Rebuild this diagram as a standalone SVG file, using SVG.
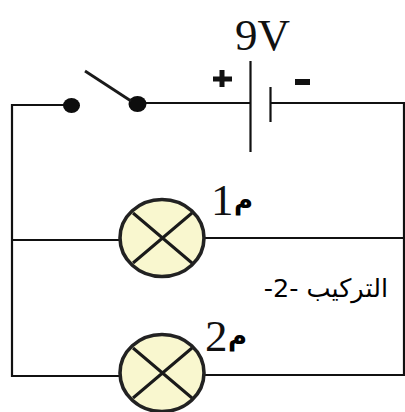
<svg xmlns="http://www.w3.org/2000/svg" width="405" height="412" viewBox="0 0 405 412">
<style>
.w{fill:none;stroke:#111;stroke-width:2.2}
.b{fill:#f9f7cf;stroke:#222;stroke-width:3.6}
.x{fill:none;stroke:#1a1a1a;stroke-width:3}
.d{fill:#0d0d0d}
.l{font-family:"Liberation Serif",serif;font-size:45px;fill:#111}
.a{font-family:"DejaVu Sans",serif;fill:#000}
</style>
<rect width="405" height="412" fill="#fff"/>
<g id="connectors">
<path class="w" d="M71 105H12V376H120"/>
<path class="w" d="M137 103H250M270 103H404V375H204"/>
<path class="w" d="M12 240H120M204 238H404"/>
</g>
<g id="switch">
<ellipse class="d" cx="71.500" cy="105.500" rx="8.500" ry="7.500"/>
<ellipse class="d" cx="137.500" cy="104" rx="9" ry="8"/>
<path d="M85 71L131 101" fill="none" stroke="#1a1a1a" stroke-width="2.800"/>
</g>
<g id="battery">
<path d="M250.500 61V152M270.500 87V122" fill="none" stroke="#111" stroke-width="2.200"/>
<text class="l" x="235" y="50">9V</text>
<path d="M222 70V87M213 79H232" fill="none" stroke="#111" stroke-width="5"/>
<rect x="295" y="79" width="15" height="6" fill="#111"/>
</g>
<g id="lamp1">
<ellipse class="b" cx="162" cy="238" rx="42" ry="38.500"/>
<path class="x" d="M133 213L192 263M192 213L133 263"/>
<text class="l" x="211" y="215">1</text>
<text class="a" x="234" y="209" font-size="26" font-weight="bold">م</text>
</g>
<g id="lamp2">
<ellipse class="b" cx="162" cy="373" rx="42" ry="38.500"/>
<path class="x" d="M133 348L192 398M192 348L133 398"/>
<text class="l" x="205" y="351">2</text>
<text class="a" x="228" y="345" font-size="26" font-weight="bold">م</text>
</g>
<g id="label">
<text class="a" x="388" y="297" font-size="25.500" direction="rtl" text-anchor="start">التركيب -2-</text>
</g>
</svg>
